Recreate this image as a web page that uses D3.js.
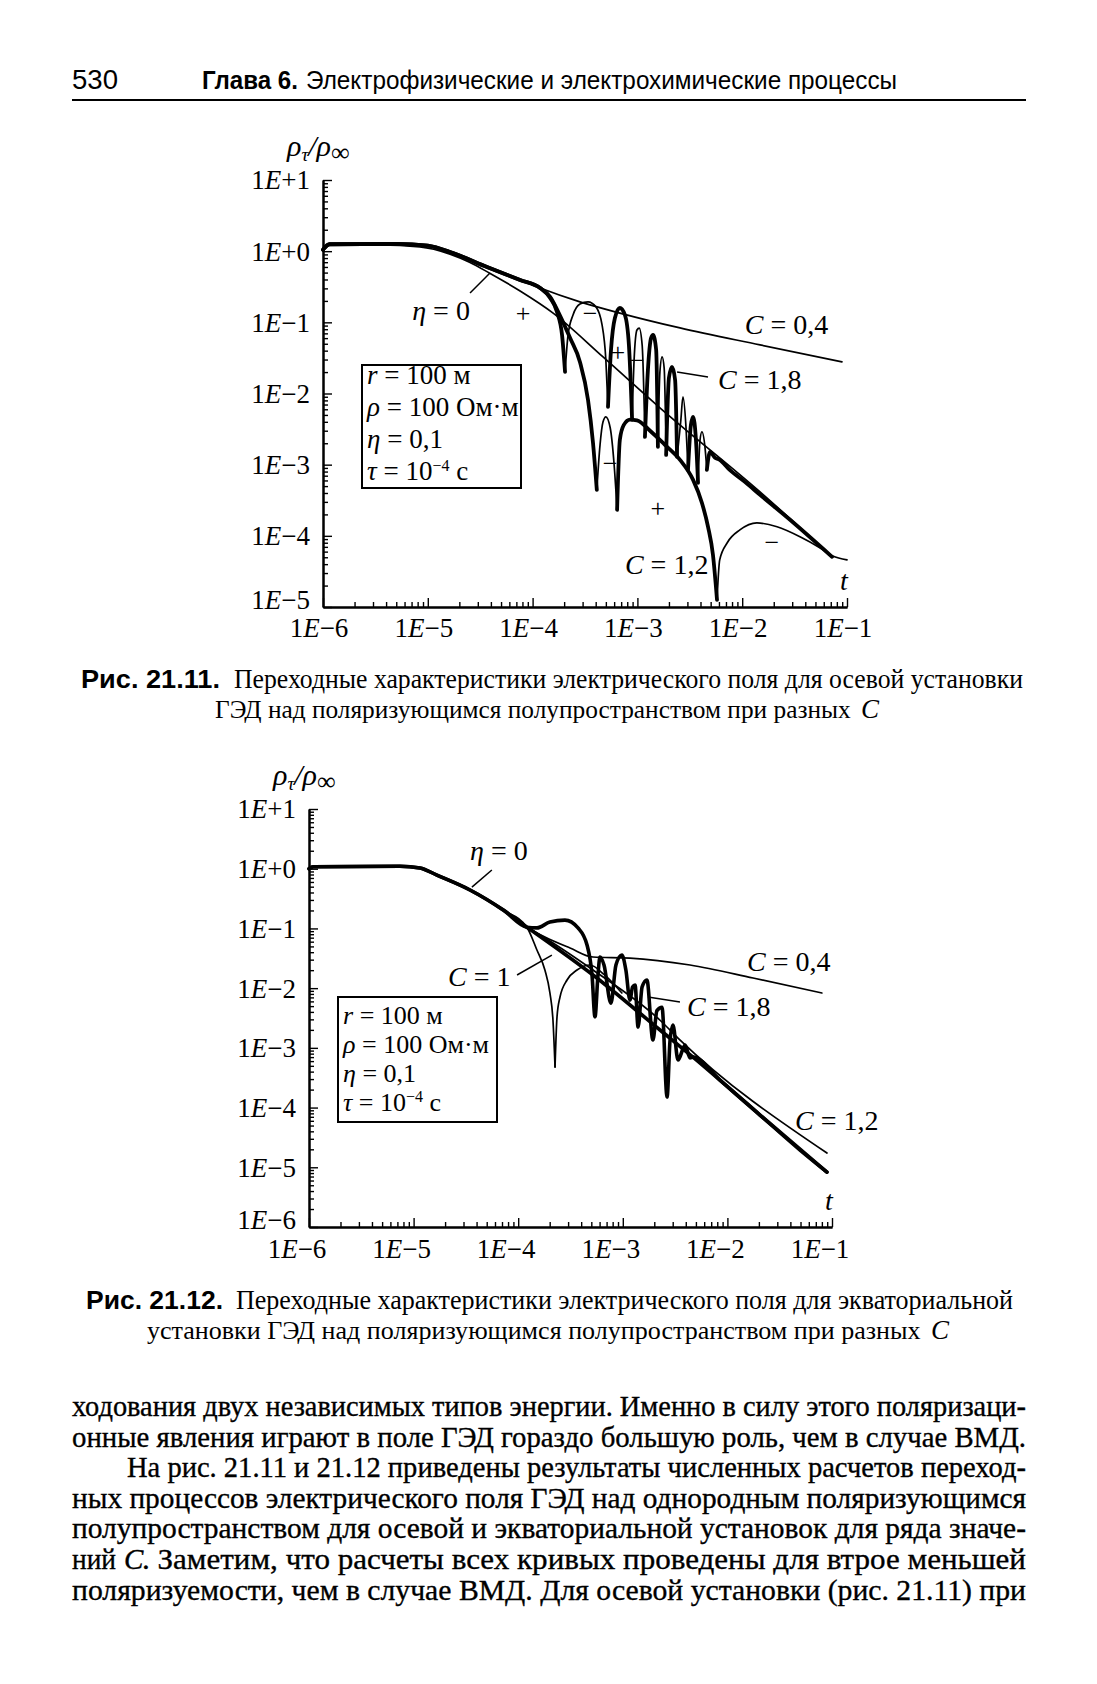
<!DOCTYPE html>
<html><head><meta charset="utf-8">
<script src="https://cdn.jsdelivr.net/npm/d3@7"></script>
<style>body{margin:0;background:#fff} svg{display:block}</style>
</head><body>
<svg id="page" width="1097" height="1684"></svg>
<script>
// ---------------- DATA ----------------
const xDecades = [-6, -5, -4, -3, -2, -1];
const topYDecades = [1, 0, -1, -2, -3, -4, -5];
const botYDecades = [1, 0, -1, -2, -3, -4, -5, -6];

// Fig. 21.11 (axial)  [t, rho_T/rho_inf]  (negative value = negative field)
const topPlateau = [[1e-6,1.05],[1.15e-6,1.25],[5e-6,1.27],[1e-5,1.2],[1.74e-5,0.94],[3.67e-5,0.60],[7.6e-5,0.394],[1.18e-4,0.304]];
const topEta0 = [[1e-6,1.05],[1.2e-6,1.22],[3.5e-6,1.22],[8.4e-6,1.15],[1.63e-5,0.91],[2.5e-5,0.70],[3.9e-5,0.49],[7.6e-5,0.276],[1.57e-4,0.135],[4.7e-4,0.0327],[1.64e-3,0.0063],[1.48e-2,4.15e-4],[7.2e-2,5.07e-5]];
const topC04 = [...topPlateau,[2.83e-4,0.194],[6.8e-4,0.135],[2.55e-3,0.0834],[1.48e-2,0.0482],[8.95e-2,0.0278]];
const topC12 = [...topPlateau,
  [1.47e-4,0.228],[1.83e-4,0.123],[2.28e-4,0.060],[2.83e-4,0.0278],[3.38e-4,0.0081],[3.77e-4,0.00202],[4.1e-4,0.000443],
  [4.4e-4,-0.0019],[4.7e-4,-0.004],[5.0e-4,-0.0047],[5.5e-4,-0.0033],[6.0e-4,-0.00099],[6.4e-4,-0.000232],
  [6.8e-4,0.00223],[7.4e-4,0.0036],[8.5e-4,0.0043],[9.9e-4,0.0042],[1.32e-3,0.003],[1.83e-3,0.0019],[2.55e-3,0.00117],[3.4e-3,0.000612],[4.13e-3,0.00029],[4.72e-3,0.000134],[5.26e-3,5.4e-5],[5.75e-3,1.26e-5],
  [6.1e-3,-4.6e-5],[7.2e-3,-8.0e-5],[9.5e-3,-1.21e-4],[1.38e-2,-1.52e-4],[2.15e-2,-1.34e-4],[3.56e-2,-9.7e-5],[5.5e-2,-6.8e-5],[7.3e-2,-5.2e-5],[0.1,-4.6e-5]];
const topC18 = [...topPlateau,
  [1.47e-4,0.22],[1.71e-4,0.14],[1.91e-4,0.0665],[2.04e-4,0.0201],
  [2.18e-4,-0.0665],[2.43e-4,-0.127],[2.83e-4,-0.181],[3.38e-4,-0.194],[4.03e-4,-0.164],[4.6e-4,-0.092],[5.0e-4,-0.0297],[5.24e-4,-0.0065],
  [5.6e-4,0.041],[6.1e-4,0.115],[6.8e-4,0.159],[7.6e-4,0.127],[8.3e-4,0.048],[8.9e-4,0.0043],
  [9.3e-4,-0.0297],[9.9e-4,-0.078],[1.04e-3,-0.083],[1.11e-3,-0.048],[1.18e-3,-0.00245],
  [1.26e-3,0.0214],[1.35e-3,0.060],[1.41e-3,0.0665],[1.51e-3,0.041],[1.57e-3,0.00178],
  [1.64e-3,-0.0201],[1.72e-3,-0.0327],[1.8e-3,-0.0229],[1.88e-3,-0.00137],
  [2.0e-3,0.0166],[2.14e-3,0.0236],[2.29e-3,0.0155],[2.39e-3,0.00129],
  [2.6e-3,-0.0043],[2.72e-3,-0.009],[2.9e-3,-0.0036],[3.04e-3,-0.000845],
  [3.24e-3,0.0036],[3.4e-3,0.0047],[3.62e-3,0.00223],[3.79e-3,0.000555],
  [3.96e-3,-0.00223],[4.13e-3,-0.0029],[4.41e-3,-0.00178],[4.6e-3,-0.000845],
  [4.93e-3,0.00151],[5.5e-3,0.00125],[6.1e-3,0.00117],[7.6e-3,0.000845],[1.06e-2,0.000573],[1.48e-2,0.000377],[2.86e-2,0.000168],[7.2e-2,5.07e-5]];
const topSigns = [[8.1e-5,0.135,"+"],[3.53e-4,0.135,"−"],[6.5e-4,0.0384,"+"],[1.0e-3,0.0297,"−"],[5.5e-4,0.00106,"−"],[1.57e-3,0.000247,"+"],[1.92e-2,8.2e-5,"−"]];
const topLabels = [[7.1e-6,0.108,"η","0"],[1.06e-2,0.0687,"C","0,4"],[5.87e-3,0.0116,"C","1,8"],[7.6e-4,2.9e-5,"C","1,2"]];
const topPointers = [[[2.53e-5,0.259],[3.9e-5,0.49]],[[2.39e-3,0.0201],[4.72e-3,0.0171]]];

// Fig. 21.12 (equatorial)
const botPlateau = [[1e-6,1.0],[1.1e-6,1.08],[7.4e-6,1.1],[1.15e-5,1.03],[1.67e-5,0.78],[3.46e-5,0.44],[7.2e-5,0.203],[1.21e-4,0.105]];
const botEta0 = [...botPlateau,[1.51e-4,0.0838],[5.19e-4,0.0201],[2.27e-3,0.0029],[3.37e-3,0.00146],[8.95e-2,1.73e-5]];
const botC04 = [...botPlateau,[1.8e-4,0.0718],[3.13e-4,0.047],[5.19e-4,0.0332],[1.17e-3,0.0319],[4.39e-3,0.0244],[1.76e-2,0.0148],[8.0e-2,0.0083]];
const botC1 = [...botPlateau,[1.51e-4,0.0435],[1.8e-4,0.0201],[2.01e-4,0.0083],[2.15e-4,0.0029],[2.25e-4,0.000477],
  [2.35e-4,-0.0033],[2.51e-4,-0.0071],[2.93e-4,-0.0137],[3.65e-4,-0.0201],[4.86e-4,-0.0244],[6.6e-4,-0.017],[9.8e-4,-0.0083]];
const botC12 = [...botPlateau,[1.51e-4,0.08],[5.19e-4,0.0166],[2.27e-3,0.00199],[4.69e-3,0.0007],[2.05e-2,7.5e-5],[8.95e-2,8.3e-6]];
const botC18 = [...botPlateau,[1.51e-4,0.102],[2.01e-4,0.128],[2.8e-4,0.138],[3.73e-4,0.102],[4.55e-4,0.0527],[5.08e-4,0.0166],[5.42e-4,0.0033],
  [5.79e-4,0.0166],[6.05e-4,0.0332],[6.61e-4,0.0244],[7.7e-4,0.0056],[8.6e-4,0.0244],[9.8e-4,0.0358],[1.07e-3,0.0201],[1.17e-3,0.0063],
  [1.24e-3,0.0105],[1.31e-3,0.0113],[1.40e-3,0.00223],[1.53e-3,0.0105],[1.70e-3,0.0137],[1.94e-3,0.00135],[2.12e-3,0.0042],[2.37e-3,0.0048],
  [2.65e-3,0.00015],[2.83e-3,0.00135],[3.02e-3,0.0024],[3.37e-3,0.000625],[3.94e-3,0.00111],[4.39e-3,0.00068],[4.69e-3,0.0007],
  [8.5e-3,0.000289],[2.05e-2,7.5e-5],[4.95e-2,1.94e-5],[8.95e-2,8.3e-6]];
const botLabels = [[3.46e-5,1.40,"η","0"],[2.13e-5,0.0108,"C","1"],[1.54e-2,0.0193,"C","0,4"],[4.11e-3,0.0034,"C","1,8"],[4.43e-2,4.2e-5,"C","1,2"]];
const botPointers = [[[3.61e-5,0.493],[5.6e-5,0.95]],[[9.75e-5,0.0166],[2.1e-4,0.0358]],[[1.74e-3,0.0071],[3.52e-3,0.00585]]];

const legendLines = [["r","100 м"],["ρ","100 Ом·м"],["η","0,1"],["τ","10","−4"," с"]];

const headerNum = "530";
const headerBold = "Глава 6.";
const headerText = "Электрофизические и электрохимические процессы";
const cap1 = ["Рис. 21.11.", "Переходные характеристики электрического поля для осевой установки", "ГЭД над поляризующимся полупространством при разных"];
const cap2 = ["Рис. 21.12.", "Переходные характеристики электрического поля для экваториальной", "установки ГЭД над поляризующимся полупространством при разных"];
const bodyLines = [
  "ходования двух независимых типов энергии. Именно в силу этого поляризаци-",
  "онные явления играют в поле ГЭД гораздо большую роль, чем в случае ВМД.",
  "На рис. 21.11 и 21.12 приведены результаты численных расчетов переход-",
  "ных процессов электрического поля ГЭД над однородным поляризующимся",
  "полупространством для осевой и экваториальной установок для ряда значе-",
  ["ний ", "C", ". Заметим, что расчеты всех кривых проведены для втрое меньшей"],
  "поляризуемости, чем в случае ВМД. Для осевой установки (рис. 21.11) при"
];

// ---------------- DRAWING ----------------
const SERIF = "'Liberation Serif','Times New Roman',serif";
const SANS = "'Liberation Sans',Arial,sans-serif";
const svg = d3.select("#page");
svg.append("rect").attr("width",1097).attr("height",1684).attr("fill","#fff");

function decLabel(sel, e) {
  sel.append("tspan").text("1");
  sel.append("tspan").attr("font-style","italic").text("E");
  sel.append("tspan").text((e >= 0 ? "+" : "−") + Math.abs(e));
}

function drawChart(cfg) {
  const x = d3.scaleLog().domain([1e-6, 1e-1]).range([cfg.x0, cfg.x1]);
  const y = d3.scaleLog().domain([cfg.yMin, 10]).range([cfg.y1, cfg.y0]);
  const g = svg.append("g");
  const xMinor = [], yMinor = [];
  for (let d = -6; d < -1; d++) for (let k = 2; k <= 9; k++) xMinor.push(k * Math.pow(10, d));
  const lmin = Math.round(Math.log10(cfg.yMin));
  for (let d = lmin; d < 1; d++) for (let k = 2; k <= 9; k++) yMinor.push(k * Math.pow(10, d));
  const xMajor = xDecades.map(e => Math.pow(10, e));
  const yMajor = cfg.yDec.map(e => Math.pow(10, e));

  const styleAx = s => { s.selectAll("path").attr("stroke","#000").attr("stroke-width",2); s.selectAll("line").attr("stroke","#000").attr("stroke-width",1.4); };
  [d3.axisTop(x).tickValues(xMinor).tickSize(5), d3.axisTop(x).tickValues(xMajor).tickSize(9)].forEach(a => {
    g.append("g").attr("transform", `translate(0,${cfg.y1})`).call(a.tickSizeOuter(0).tickFormat("")).call(styleAx);
  });
  [d3.axisRight(y).tickValues(yMinor).tickSize(5), d3.axisRight(y).tickValues(yMajor).tickSize(9)].forEach(a => {
    g.append("g").attr("transform", `translate(${cfg.x0},0)`).call(a.tickSizeOuter(0).tickFormat("")).call(styleAx);
  });
  g.selectAll("text").remove();

  // tick labels
  const lastY = cfg.yDec[cfg.yDec.length - 1];
  cfg.yDec.forEach(e => {
    const t = g.append("text").attr("x", cfg.x0 - 13).attr("y", y(Math.pow(10, e)) - (e === lastY ? 7 : 0)).attr("dy", "0.35em")
      .attr("text-anchor","end").attr("font-family",SERIF).attr("font-size",27);
    decLabel(t, e);
  });
  xDecades.forEach(e => {
    const t = g.append("text").attr("x", x(Math.pow(10, e)) + cfg.xLabShift).attr("y", cfg.y1 + cfg.xLabDy)
      .attr("text-anchor","middle").attr("font-family",SERIF).attr("font-size",27);
    decLabel(t, e);
  });
  // axis titles
  const yt = g.append("text").attr("x", cfg.x0 - 36).attr("y", cfg.y0 - 24).attr("font-family",SERIF).attr("font-size",30).attr("font-style","italic");
  yt.append("tspan").text("ρ");
  yt.append("tspan").attr("font-size",19).attr("dy",5).text("τ");
  yt.append("tspan").attr("dy",-5).text("/ρ");
  yt.append("tspan").attr("font-size",26).attr("dy",5).attr("font-style","normal").text("∞");
  g.append("text").attr("x", cfg.x1 - 7).attr("y", cfg.y1 - 17).attr("font-family",SERIF).attr("font-size",28).attr("font-style","italic").text("t");

  // curves
  const line = d3.line().x(d => x(d[0])).y(d => y(Math.abs(d[1]))).curve(d3.curveMonotoneX);
  cfg.series.forEach(s => {
    const runs = [];
    let cur = [s.data[0]], sg = Math.sign(s.data[0][1]);
    for (let i = 1; i < s.data.length; i++) {
      const si = Math.sign(s.data[i][1]);
      if (si !== sg) { runs.push({sg, pts: cur}); cur = [s.data[i-1], s.data[i]]; sg = si; }
      else cur.push(s.data[i]);
    }
    runs.push({sg, pts: cur});
    runs.forEach(r => {
      g.append("path").attr("d", line(r.pts)).attr("fill","none").attr("stroke","#000")
        .attr("stroke-width", r.sg > 0 ? s.pos : s.neg).attr("stroke-linejoin","round").attr("stroke-linecap","round");
    });
  });

  // pointers
  cfg.pointers.forEach(p => {
    g.append("line").attr("x1", x(p[0][0])).attr("y1", y(p[0][1])).attr("x2", x(p[1][0])).attr("y2", y(p[1][1]))
      .attr("stroke","#000").attr("stroke-width",1.5);
  });
  // labels
  cfg.labels.forEach(l => {
    const t = g.append("text").attr("x", x(l[0])).attr("y", y(l[1])).attr("font-family",SERIF).attr("font-size",28);
    t.append("tspan").attr("font-style","italic").text(l[2]);
    t.append("tspan").text(" = " + l[3]);
  });
  (cfg.signs || []).forEach(s => {
    g.append("text").attr("x", x(s[0])).attr("y", y(s[1])).attr("dy","0.35em").attr("text-anchor","middle")
      .attr("font-family",SERIF).attr("font-size",26).text(s[2]);
  });

  // legend box
  const b = cfg.box;
  g.append("rect").attr("x", b.x).attr("y", b.y).attr("width", b.w).attr("height", b.h)
    .attr("fill","#fff").attr("stroke","#000").attr("stroke-width",2);
  legendLines.forEach((ln, i) => {
    const t = g.append("text").attr("x", b.x + 5).attr("y", b.y + b.first + i * b.step)
      .attr("font-family",SERIF).attr("font-size",b.fs);
    t.append("tspan").attr("font-style","italic").text(ln[0]);
    t.append("tspan").text(" = " + ln[1]);
    if (ln[2]) { t.append("tspan").attr("font-size",16).attr("dy",-9).text(ln[2]); t.append("tspan").attr("dy",9).text(ln[3]); }
  });
}

drawChart({
  x0: 323, x1: 847, y0: 180, y1: 607, yMin: 1e-5, yDec: topYDecades, xLabShift: -4, xLabDy: 30,
  series: [
    {data: topEta0, pos: 1.7, neg: 1.7},
    {data: topC04, pos: 1.7, neg: 1.7},
    {data: topC12, pos: 3.8, neg: 1.7},
    {data: topC18, pos: 3.8, neg: 1.7}
  ],
  pointers: topPointers, labels: topLabels, signs: topSigns,
  box: {x: 362, y: 365, w: 159, h: 123, first: 19, step: 32, fs: 27}
});
drawChart({
  x0: 309, x1: 832, y0: 809, y1: 1227, yMin: 1e-6, yDec: botYDecades, xLabShift: -12, xLabDy: 31,
  series: [
    {data: botEta0, pos: 1.7, neg: 1.7},
    {data: botC04, pos: 1.7, neg: 1.7},
    {data: botC1, pos: 1.7, neg: 1.7},
    {data: botC12, pos: 3.6, neg: 3.6},
    {data: botC18, pos: 3.6, neg: 3.6}
  ],
  pointers: botPointers, labels: botLabels,
  box: {x: 338, y: 997, w: 159, h: 125, first: 27, step: 29, fs: 26}
});

// header
svg.append("text").attr("x",72).attr("y",89).attr("font-family",SANS).attr("font-size",27)
  .attr("textLength",46).attr("lengthAdjust","spacingAndGlyphs").text(headerNum);
svg.append("text").attr("x",202).attr("y",89).attr("font-family",SANS).attr("font-size",26).attr("font-weight","bold")
  .attr("textLength",96).attr("lengthAdjust","spacingAndGlyphs").text(headerBold);
svg.append("text").attr("x",306).attr("y",89).attr("font-family",SANS).attr("font-size",26)
  .attr("textLength",591).attr("lengthAdjust","spacingAndGlyphs").text(headerText);
svg.append("line").attr("x1",72).attr("x2",1026).attr("y1",100).attr("y2",100).attr("stroke","#000").attr("stroke-width",2);

// fit a text's natural width to a target by adjusting its font size
function fitText(t, target, fs) {
  const w = t.node().getComputedTextLength();
  t.attr("font-size", Math.min(fs * 1.15, fs * target / w));
}

// captions
function caption(c, y1, y2, bx, bw, rx, rw, l2x, l2w) {
  svg.append("text").attr("x",bx).attr("y",y1).attr("font-family",SANS).attr("font-size",25).attr("font-weight","bold")
    .attr("textLength",bw).attr("lengthAdjust","spacingAndGlyphs").text(c[0]);
  svg.append("text").attr("x",rx).attr("y",y1).attr("font-family",SERIF).attr("font-size",27)
    .attr("textLength",rw).attr("lengthAdjust","spacingAndGlyphs").text(c[1]);
  const t2 = svg.append("text").attr("x",l2x).attr("y",y2).attr("font-family",SERIF).attr("font-size",27).text(c[2]);
  fitText(t2, l2w - 28, 27);
  svg.append("text").attr("x",l2x + l2w - 18).attr("y",y2).attr("font-family",SERIF).attr("font-size",27)
    .attr("font-style","italic").text("C");
}
caption(cap1, 688, 718, 81, 139, 234, 789, 215, 664);
caption(cap2, 1309, 1339, 86, 137, 236, 777, 147, 802);

// body text
const bodyY0 = 1416, bodyStep = 30.6;
bodyLines.forEach((ln, i) => {
  const xStart = i === 2 ? 127 : 72;
  const y = bodyY0 + i * bodyStep;
  const base = s => s.attr("y", y).attr("font-family",SERIF).attr("font-size",29)
    .attr("stroke","#000").attr("stroke-width",0.35).attr("lengthAdjust","spacingAndGlyphs");
  if (Array.isArray(ln)) {
    base(svg.append("text")).attr("x", xStart).attr("textLength", 44).text(ln[0].trim());
    base(svg.append("text")).attr("x", xStart + 52).attr("font-style","italic").text(ln[1]);
    base(svg.append("text")).attr("x", xStart + 70).attr("textLength", 1026 - xStart - 70).text(ln[2]);
  } else {
    base(svg.append("text")).attr("x", xStart).attr("textLength", 1026 - xStart).text(ln);
  }
});
</script>
</body></html>
